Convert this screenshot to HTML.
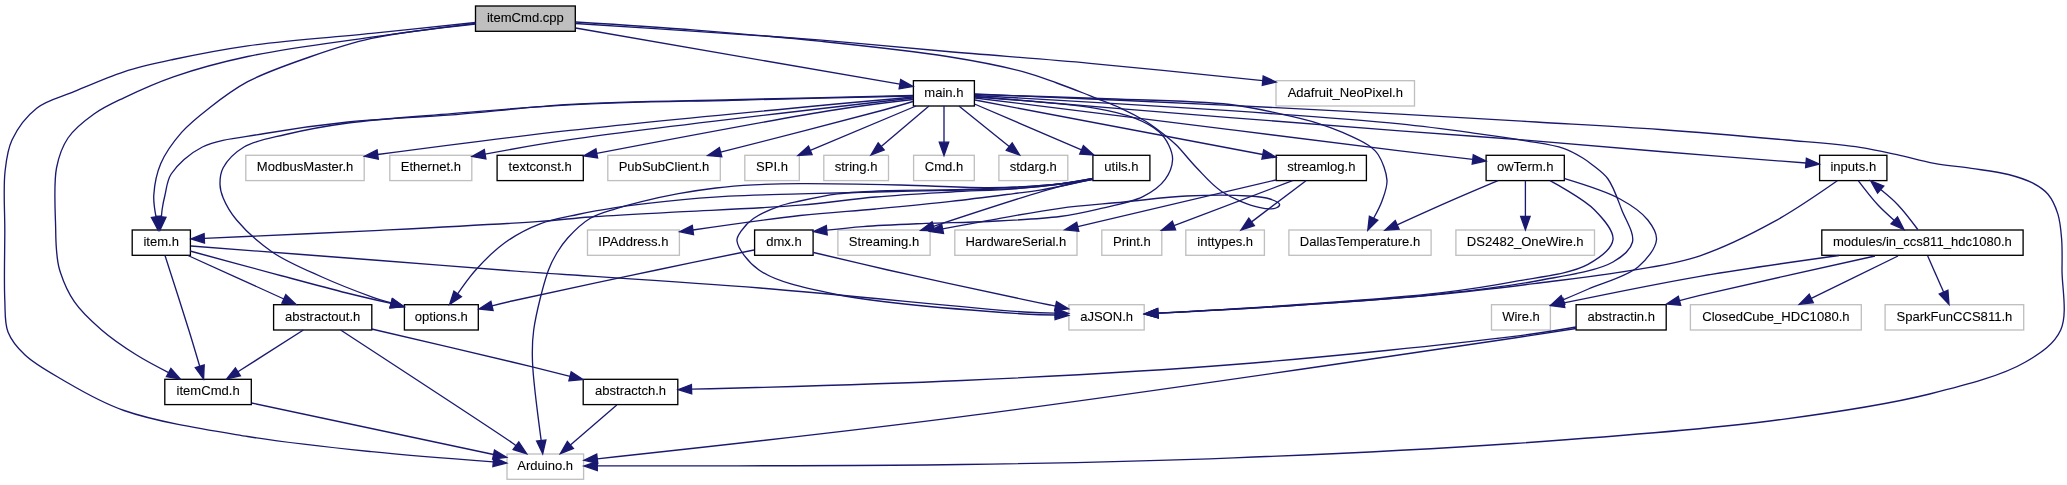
<!DOCTYPE html>
<html><head><meta charset="utf-8"><title>itemCmd.cpp</title>
<style>
html,body{margin:0;padding:0;background:#fff;}
body{width:2067px;height:485px;overflow:hidden;}
svg{display:block;}
text{font-family:"Liberation Sans",sans-serif;font-size:13.5px;text-anchor:middle;fill:#000;stroke:#000;stroke-width:0.1px;}
.e{fill:none;stroke:#191970;stroke-width:1.33;}
.a{fill:#191970;stroke:#191970;stroke-width:1.33;}
</style></head><body>
<svg width="2067" height="485" viewBox="0 0 2067 485">
<rect width="2067" height="485" fill="#fff"/>
<rect x="475.5" y="6" width="99.8" height="25.3" fill="#bfbfbf" stroke="#000000" stroke-width="1.33"/>
<rect x="913.4" y="80.7" width="61" height="25.3" fill="#ffffff" stroke="#000000" stroke-width="1.33"/>
<rect x="1276" y="80.7" width="138.5" height="25.3" fill="#ffffff" stroke="#bfbfbf" stroke-width="1.33"/>
<rect x="245.8" y="155.3" width="118.4" height="25.3" fill="#ffffff" stroke="#bfbfbf" stroke-width="1.33"/>
<rect x="389.8" y="155.3" width="82" height="25.3" fill="#ffffff" stroke="#bfbfbf" stroke-width="1.33"/>
<rect x="497.1" y="155.3" width="86.2" height="25.3" fill="#ffffff" stroke="#000000" stroke-width="1.33"/>
<rect x="607.8" y="155.3" width="112.5" height="25.3" fill="#ffffff" stroke="#bfbfbf" stroke-width="1.33"/>
<rect x="744.8" y="155.3" width="54.5" height="25.3" fill="#ffffff" stroke="#bfbfbf" stroke-width="1.33"/>
<rect x="823.8" y="155.3" width="64.7" height="25.3" fill="#ffffff" stroke="#bfbfbf" stroke-width="1.33"/>
<rect x="913.6" y="155.3" width="60.7" height="25.3" fill="#ffffff" stroke="#bfbfbf" stroke-width="1.33"/>
<rect x="998.9" y="155.3" width="68.9" height="25.3" fill="#ffffff" stroke="#bfbfbf" stroke-width="1.33"/>
<rect x="1092.9" y="155.3" width="57" height="25.3" fill="#ffffff" stroke="#000000" stroke-width="1.33"/>
<rect x="1276.2" y="155.3" width="90.2" height="25.3" fill="#ffffff" stroke="#000000" stroke-width="1.33"/>
<rect x="1486.1" y="155.3" width="78.2" height="25.3" fill="#ffffff" stroke="#000000" stroke-width="1.33"/>
<rect x="1819.6" y="155.3" width="67.3" height="25.3" fill="#ffffff" stroke="#000000" stroke-width="1.33"/>
<rect x="132.2" y="230" width="58.2" height="25.3" fill="#ffffff" stroke="#000000" stroke-width="1.33"/>
<rect x="587.5" y="230" width="91.9" height="25.3" fill="#ffffff" stroke="#bfbfbf" stroke-width="1.33"/>
<rect x="754.6" y="230" width="58.5" height="25.3" fill="#ffffff" stroke="#000000" stroke-width="1.33"/>
<rect x="837.9" y="230" width="92.2" height="25.3" fill="#ffffff" stroke="#bfbfbf" stroke-width="1.33"/>
<rect x="954.8" y="230" width="122.2" height="25.3" fill="#ffffff" stroke="#bfbfbf" stroke-width="1.33"/>
<rect x="1101.8" y="230" width="60" height="25.3" fill="#ffffff" stroke="#bfbfbf" stroke-width="1.33"/>
<rect x="1185.8" y="230" width="78.6" height="25.3" fill="#ffffff" stroke="#bfbfbf" stroke-width="1.33"/>
<rect x="1288.9" y="230" width="142.2" height="25.3" fill="#ffffff" stroke="#bfbfbf" stroke-width="1.33"/>
<rect x="1455.9" y="230" width="138.6" height="25.3" fill="#ffffff" stroke="#bfbfbf" stroke-width="1.33"/>
<rect x="1821.8" y="230" width="201.3" height="25.3" fill="#ffffff" stroke="#000000" stroke-width="1.33"/>
<rect x="273.6" y="304.7" width="98.2" height="25.3" fill="#ffffff" stroke="#000000" stroke-width="1.33"/>
<rect x="404.4" y="304.7" width="73.9" height="25.3" fill="#ffffff" stroke="#000000" stroke-width="1.33"/>
<rect x="1068.9" y="304.7" width="75.3" height="25.3" fill="#ffffff" stroke="#bfbfbf" stroke-width="1.33"/>
<rect x="1491.5" y="304.7" width="58.9" height="25.3" fill="#ffffff" stroke="#bfbfbf" stroke-width="1.33"/>
<rect x="1576.1" y="304.7" width="90.1" height="25.3" fill="#ffffff" stroke="#000000" stroke-width="1.33"/>
<rect x="1690.4" y="304.7" width="170.9" height="25.3" fill="#ffffff" stroke="#bfbfbf" stroke-width="1.33"/>
<rect x="1885.1" y="304.7" width="138.6" height="25.3" fill="#ffffff" stroke="#bfbfbf" stroke-width="1.33"/>
<rect x="164.8" y="379.3" width="86.5" height="25.3" fill="#ffffff" stroke="#000000" stroke-width="1.33"/>
<rect x="583.2" y="379.3" width="94.6" height="25.3" fill="#ffffff" stroke="#000000" stroke-width="1.33"/>
<rect x="507" y="454" width="76.6" height="25.3" fill="#ffffff" stroke="#bfbfbf" stroke-width="1.33"/>
<g style="opacity:0.999">
<text transform="translate(525.4,22) scale(0.968,1)">itemCmd.cpp</text>
<text transform="translate(943.9,96.6) scale(0.968,1)">main.h</text>
<text transform="translate(1345.3,96.6) scale(0.968,1)">Adafruit_NeoPixel.h</text>
<text transform="translate(305.1,171.3) scale(0.968,1)">ModbusMaster.h</text>
<text transform="translate(430.8,171.3) scale(0.968,1)">Ethernet.h</text>
<text transform="translate(540.1,171.3) scale(0.968,1)">textconst.h</text>
<text transform="translate(664,171.3) scale(0.968,1)">PubSubClient.h</text>
<text transform="translate(772,171.3) scale(0.968,1)">SPI.h</text>
<text transform="translate(856.1,171.3) scale(0.968,1)">string.h</text>
<text transform="translate(944,171.3) scale(0.968,1)">Cmd.h</text>
<text transform="translate(1033.3,171.3) scale(0.968,1)">stdarg.h</text>
<text transform="translate(1121.4,171.3) scale(0.968,1)">utils.h</text>
<text transform="translate(1321.3,171.3) scale(0.968,1)">streamlog.h</text>
<text transform="translate(1525.2,171.3) scale(0.968,1)">owTerm.h</text>
<text transform="translate(1853.3,171.3) scale(0.968,1)">inputs.h</text>
<text transform="translate(161.2,246) scale(0.968,1)">item.h</text>
<text transform="translate(633.4,246) scale(0.968,1)">IPAddress.h</text>
<text transform="translate(783.9,246) scale(0.968,1)">dmx.h</text>
<text transform="translate(884,246) scale(0.968,1)">Streaming.h</text>
<text transform="translate(1015.8,246) scale(0.968,1)">HardwareSerial.h</text>
<text transform="translate(1131.8,246) scale(0.968,1)">Print.h</text>
<text transform="translate(1225.2,246) scale(0.968,1)">inttypes.h</text>
<text transform="translate(1360,246) scale(0.968,1)">DallasTemperature.h</text>
<text transform="translate(1525.2,246) scale(0.968,1)">DS2482_OneWire.h</text>
<text transform="translate(1922.4,246) scale(0.968,1)">modules/in_ccs811_hdc1080.h</text>
<text transform="translate(322.6,320.6) scale(0.968,1)">abstractout.h</text>
<text transform="translate(441.3,320.6) scale(0.968,1)">options.h</text>
<text transform="translate(1106.6,320.6) scale(0.968,1)">aJSON.h</text>
<text transform="translate(1521,320.6) scale(0.968,1)">Wire.h</text>
<text transform="translate(1621.2,320.6) scale(0.968,1)">abstractin.h</text>
<text transform="translate(1775.9,320.6) scale(0.968,1)">ClosedCube_HDC1080.h</text>
<text transform="translate(1954.4,320.6) scale(0.968,1)">SparkFunCCS811.h</text>
<text transform="translate(208.1,395.3) scale(0.968,1)">itemCmd.h</text>
<text transform="translate(630.5,395.3) scale(0.968,1)">abstractch.h</text>
<text transform="translate(545.2,470) scale(0.968,1)">Arduino.h</text>
</g>
<g>
<path class="e" d="M475.5,22.5C475.5,22.5 407.8,29.7 371.6,33.4C332.1,37.4 283.7,40.7 247.7,45.8C219.6,49.8 195.2,54.7 173,59.5C154.9,63.4 140.2,66.5 123.9,71.8C107.2,77.2 89.3,85.3 74,91.7C60.7,97.3 47.3,100 37,108C26.7,116.1 17.3,128.7 12,140C7.2,150.2 6.4,159.7 5,172C3.2,188.4 4.8,209.8 4.8,230C4.8,252.2 3.9,281.2 4.8,300C5.4,312.7 4.4,322.7 8,332C11.4,340.8 17.3,347.7 24.8,354.8C34.2,363.8 47.7,371.2 62,379.5C79.8,389.8 99.1,401.8 124,410.5C157.6,422.2 206.3,429.6 247.7,436.5C288.8,443.3 330.4,447.5 371.6,451.7C412.3,455.9 493.3,461.9 493.3,461.9"/><polygon class="a" points="492.9,466.5 506.6,463 493.7,457.2"/>
<path class="e" d="M475.5,23.3C475.5,23.3 407.7,32 371.6,37.2C332.1,42.9 283.6,48.8 247.7,56.5C219.6,62.5 195.4,69.2 173.4,76.8C155,83.2 138.2,90.9 123.9,97.8C112.5,103.3 103.2,107.4 94,114C84.6,120.7 74.3,128.7 68,138C62,146.8 58.8,156 56.5,168C53.3,184.7 55.5,215 55.7,230C55.8,238.5 55.9,243.4 56.5,250C57.1,256.6 57.4,262.4 59.5,269.5C62.4,279.1 67.6,291.8 74.3,301.7C81.4,312.1 91.5,321.3 101.6,330C112.1,339.1 124.6,347.5 136.2,354.8C147,361.6 168.6,372.6 168.6,372.6"/><polygon class="a" points="166.4,376.7 180.3,379 170.9,368.5"/>
<path class="e" d="M475.5,24C475.5,24 401.6,31.9 371.6,38.4C348.1,43.5 330.1,49.8 309.6,57C288.8,64.3 265.4,72.2 247.7,81.7C232.9,89.6 220.8,99 209.3,108C199,116 189.7,123.2 181.6,132.4C173.5,141.7 165.4,152.7 160.8,163.6C156.5,173.7 154.4,185.4 153.8,195C153.3,202.9 156,216.8 156,216.8"/><polygon class="a" points="151.4,217.5 158,230 160.7,216.1"/>
<path class="e" d="M575.6,28L899.9,84.2"/><polygon class="a" points="899.1,88.8 913,86.5 900.7,79.6"/>
<path class="e" d="M575.6,23.5C575.6,23.5 655.3,28.7 695.8,31.4C737.3,34.2 779.7,36.9 821.6,40.2C863.5,43.6 904.1,47.8 947.4,51.5C993.4,55.5 1040.2,58.7 1090,63.3C1144.8,68.3 1262.7,80.7 1262.7,80.7"/><polygon class="a" points="1262.3,85.3 1276,82 1263.2,76"/>
<path class="e" d="M575.6,22C575.6,22 655.3,26.9 695.8,30.1C737.3,33.4 779.7,37 821.6,41.4C863.6,45.8 910.9,50.7 947.4,56.5C975.8,61 1002.7,66.3 1022.8,71.6C1036.5,75.3 1046.2,79.2 1056.8,83C1066.2,86.4 1076,90.2 1083.2,93C1088.2,95 1090.9,96.2 1095.8,98.2C1102.8,101 1112.7,104.5 1121,108.3C1129.5,112.2 1138.4,116.8 1146,121.5C1152.9,125.8 1159.6,131 1165,135.3C1169.3,138.7 1172.1,140.9 1176.3,145C1182.3,150.9 1189.4,160.4 1196.8,168C1204.6,176 1212.1,185.3 1222,191.7C1232.6,198.6 1248.9,205.2 1259,207.4C1265.6,208.9 1272.6,209.4 1276,208C1277.9,207.2 1279.8,205.5 1279.6,204.3C1279.3,202.5 1274,200.3 1270,199C1264.4,197.1 1257.8,196.6 1248.8,196C1233.5,194.9 1207.2,195 1186.4,196C1165.6,197 1144.9,200 1124,202C1102.8,204.1 1081.9,205.4 1060,208.3C1036.8,211.4 1009.9,216.5 988.7,220.3C971.6,223.3 942.6,228.9 942.6,228.9"/><polygon class="a" points="941.7,224.4 929.5,231.4 943.5,233.5"/>
<path class="e" d="M251.7,403L493.6,454.5"/><polygon class="a" points="492.6,459.1 506.6,457.3 494.5,450"/>
<path class="e" d="M913,95.5C913,95.5 799.1,98 742,99.5C684.7,101 621.9,101.4 570,104.4C526.9,106.9 490.1,111.8 452,114.8C416.3,117.6 380.7,118.6 348,122C318.7,125 290.5,129 264.8,133.5C242.4,137.5 218.8,138.8 202.4,147C189.2,153.6 177.2,164.6 171.2,174C166.8,180.8 166.6,188.7 165,195C163.7,200.1 162.8,205 162.2,209C161.8,211.9 161.4,216.7 161.4,216.7"/><polygon class="a" points="156.7,216.3 160,230 166,217.2"/>
<path class="e" d="M913,96C913,96 799.1,98.5 742,100C684.7,101.5 621.9,102.1 570,104.8C526.9,107 490.1,110.6 452,113.7C416.2,116.6 378.2,118.9 348,123C324.5,126.2 304.2,130 285.6,134.5C270.2,138.2 254.9,140.5 244,147C235,152.4 227,160.6 223.2,167.8C220.3,173.2 219.9,179.2 220,184.5C220.1,189.3 221.2,193.1 223.2,198C225.9,204.6 230.3,212.5 236.6,220C245.2,230.3 258.9,242.9 272.5,252.2C287.1,262.1 305.3,269.5 322,277C338.4,284.4 358.8,292.2 371.6,296.8C379.6,299.6 391.3,303 391.3,303"/><polygon class="a" points="389.9,307.5 404,307 392.7,298.5"/>
<path class="e" d="M913,97C913,97 667.8,119.5 570,130.4C496.6,138.6 377.7,154.5 377.7,154.5"/><polygon class="a" points="377.1,149.9 364.5,156.2 378.3,159.2"/>
<path class="e" d="M913,98C913,98 645.9,128.6 570,139.7C532.1,145.2 485.1,154.2 485.1,154.2"/><polygon class="a" points="484.3,149.6 472,156.5 485.9,158.9"/>
<path class="e" d="M913,99.5C913,99.5 867.3,104.7 834,110C776,119.1 596.7,153.4 596.7,153.4"/><polygon class="a" points="595.9,148.8 583.6,155.8 597.6,158"/>
<path class="e" d="M913,101.5C913,101.5 897.4,106.2 883.6,110C851.2,118.9 720.6,152.2 720.6,152.2"/><polygon class="a" points="719.4,147.6 707.7,155.5 721.8,156.7"/>
<path class="e" d="M916,106L810.3,150.3"/><polygon class="a" points="808.5,146 798,155.5 812.1,154.6"/>
<path class="e" d="M929,106L881.2,146.4"/><polygon class="a" points="878.2,142.8 871,155 884.2,150"/>
<path class="e" d="M944,106L944,142.2"/><polygon class="a" points="939.3,142.2 944,155.5 948.7,142.2"/>
<path class="e" d="M958.9,106L1009.2,146.6"/><polygon class="a" points="1006.3,150.3 1019.6,155 1012.2,143"/>
<path class="e" d="M974.5,104L1081.5,149.8"/><polygon class="a" points="1079.7,154.1 1093.8,155 1083.4,145.5"/>
<path class="e" d="M975,97C975,97 1067.1,103.4 1095.8,108.3C1112.1,111.1 1122.4,113.4 1133.5,117.7C1143,121.4 1152.6,126.2 1158.7,131.5C1163.4,135.6 1166.4,140.2 1168.7,145C1170.9,149.6 1172.8,154.3 1172.6,159.5C1172.3,165.7 1169.5,173.5 1165.2,179.4C1160.2,186.2 1152.2,192 1142.9,196.7C1131,202.7 1112.7,205.7 1098.3,209.1C1085.1,212.2 1074.8,214.6 1060,216.5C1040,219.1 1011.7,220.3 988.7,221.5C967.1,222.6 946.8,222.6 925.8,223.4C904.8,224.3 881,225.2 862.9,226.6C849.2,227.6 826.8,230.2 826.8,230.2"/><polygon class="a" points="826.3,225.5 813.5,231.5 827.2,234.8"/>
<path class="e" d="M975,100L1262.8,154.5"/><polygon class="a" points="1261.9,159.1 1275.9,157 1263.7,149.9"/>
<path class="e" d="M975,94.5C975,94.5 1057.9,96.9 1100,98.5C1142.9,100.2 1196.9,100.7 1230,104.5C1250.8,106.9 1264.8,110.5 1280.3,113.9C1293.8,116.8 1306.8,119.8 1318,123.3C1327.3,126.2 1334.9,129.1 1343.2,132.7C1351.7,136.4 1362.1,140.9 1368.4,145.3C1372.8,148.4 1375.6,150.6 1378.4,155C1382.3,161.2 1386.6,172.3 1387,180.4C1387.3,187.6 1384.3,194.5 1382,201C1379.8,207.1 1373.6,218.3 1373.6,218.3"/><polygon class="a" points="1369.4,216.3 1367.8,230.3 1377.8,220.3"/>
<path class="e" d="M975,98C975,98 1153.6,120.1 1230,129.6C1292.4,137.4 1355.2,145.5 1400,150.9C1429.3,154.5 1472.8,159.4 1472.8,159.4"/><polygon class="a" points="1472.2,164.1 1486,161 1473.3,154.8"/>
<path class="e" d="M975,95.5C975,95.5 1153.6,105.5 1230,110.7C1292.4,115 1354.7,119.3 1400,123.9C1430.2,127 1452.9,130.2 1475.5,133.3C1494,135.8 1510.3,138.1 1525.8,140.8C1539.3,143.2 1553.3,144.9 1563.5,148.4C1571.1,151 1577.2,154.7 1582.4,157.8C1586.4,160.2 1588.9,162.1 1592.5,165C1597.2,168.8 1603.5,172.8 1608,179C1613.7,186.9 1617.7,199.5 1621.8,210C1625.9,220.5 1634.5,233.1 1632.5,242C1630.6,250.1 1622.7,256.4 1613,262C1597,271.2 1565.6,275.4 1539,280.5C1508.5,286.4 1475.9,290.1 1440,294C1397.4,298.6 1346.9,301.8 1300,305C1252.8,308.2 1157.9,313.2 1157.9,313.2"/><polygon class="a" points="1157.6,308.6 1144.6,314 1158.2,317.9"/>
<path class="e" d="M975,96.5C975,96.5 1153.6,111.5 1230,117.6C1292.4,122.6 1347.6,126.8 1400,130.8C1445.1,134.2 1483.2,136.8 1525.8,140.2C1569.8,143.7 1614.3,147.8 1660,151.5C1707.6,155.4 1806,163 1806,163"/><polygon class="a" points="1805.6,167.6 1819.3,164 1806.4,158.3"/>
<path class="e" d="M975,94C975,94 1153.6,101.6 1230,105.3C1292.4,108.3 1346.5,111.2 1400,114.1C1447.9,116.7 1491.7,119.4 1536,122C1578.3,124.5 1618.5,126.5 1660,129.5C1702,132.5 1750.1,136.7 1786.6,140C1814.4,142.5 1839.7,144.3 1860,147.3C1874.5,149.5 1884.7,152 1897,154.7C1909.4,157.4 1921.8,161.1 1934.2,163.4C1946.5,165.6 1958.9,166.5 1971.3,168.3C1983.7,170.2 1997.4,171.7 2008.4,174.5C2017.6,176.9 2026,179.5 2033,183.2C2038.9,186.3 2043.9,189.5 2048,194.3C2052.4,199.6 2055.6,206.9 2057.9,214.1C2060.3,221.7 2060.9,230.1 2061.6,238.8C2062.4,248.6 2062.1,257.9 2062,270C2061.9,286.8 2067.9,314.2 2060.7,330C2054.3,344 2041.4,352.7 2025.5,362C2002.3,375.6 1966,384.9 1929.6,394C1883.5,405.5 1829.5,413.3 1769.8,421C1694.7,430.6 1601.3,437.4 1514,443.5C1422.8,449.8 1326.4,454.3 1233.7,457.8C1142.5,461.3 1059.2,463.1 962,464.5C849.4,466.1 597.3,465.9 597.3,465.9"/><polygon class="a" points="597.3,461.3 584,466 597.3,470.6"/>
<path class="e" d="M1093,178.3C1093,178.3 1073.1,182.4 1060,183.8C1040.8,185.9 1013.7,187.3 988.7,187.6C960.9,187.9 930.9,185.7 900.6,185C868.2,184.3 827.1,183.4 800,183.6C781.6,183.7 768.4,184.1 753.8,184.9C740.6,185.6 728.6,186.5 716,188C703.4,189.5 690.9,191.4 678.4,193.7C665.8,196 651.9,199.1 640.6,201.9C631.3,204.2 623.8,206.1 615.5,208.8C607,211.5 598.1,213.6 590.3,218.3C582.1,223.2 573.6,231.6 567.7,238C563.1,243.1 560,247.7 556.8,253C553.6,258.4 551.3,262.4 548.5,270C543.5,283.7 536.1,313 533.7,330C532,342.2 532,349 532.5,362C533.2,382.4 541.2,440.4 541.2,440.5"/><polygon class="a" points="536.6,441 542.7,453.7 545.9,439.9"/>
<path class="e" d="M1093,178.5C1093,178.5 1072,182.4 1060,184C1045.9,185.9 1029.5,187.6 1013.8,188.6C997.4,189.6 982.6,189.5 963.5,190C938.2,190.6 903.7,191.3 875.5,192C849.4,192.6 824.8,193.2 800,193.9C775.9,194.6 751.7,194.9 728.7,196.2C707.1,197.4 685.6,199.3 665.8,201.3C648.1,203.1 631,205.2 615.5,207.6C602,209.7 590.2,211.8 577.7,214.5C565.1,217.2 552.1,219.2 540,223.9C527.8,228.6 515.5,235.1 504.8,242.8C494.1,250.5 483.9,260.9 475.7,270C468.6,277.9 457.6,293.9 457.6,293.9"/><polygon class="a" points="453.9,291.1 449.6,304.5 461.4,296.7"/>
<path class="e" d="M1093,178.5C1093,178.5 1072,182.4 1060,184C1045.9,185.9 1030.4,187.5 1013.8,188.8C994.5,190.3 972.9,190.7 951,192C927,193.4 900.6,194.8 875.5,197C850.3,199.2 828.8,202.8 800,205.2C761.7,208.3 704.1,210.4 665.8,212.6C637,214.2 612.9,215.4 590.3,217C571.8,218.3 561.5,219.9 540,221.4C501.7,224.1 434.6,227.5 380,230.3C322.8,233.2 204.3,238.4 204.3,238.4"/><polygon class="a" points="204.1,233.7 191,239 204.5,243.1"/>
<path class="e" d="M1093,179C1093,179 1073.9,182.6 1060,184C1036.3,186.5 993.7,188.4 963.5,189.5C936.8,190.5 910.6,189.8 888,190.7C869.5,191.4 853.2,192 837.7,193.9C824.2,195.6 810.7,198.6 800,201C792,202.8 786.2,203.7 779,206.3C770.8,209.2 760.4,213.6 753.8,218.3C748.5,222 744.2,226.6 741.3,230.8C739,234.2 736.5,236.9 737,241C737.9,248.4 747.8,262 759,270C775.5,281.7 802.9,287.5 834,294C882.5,304.2 987.4,311.5 1024,314C1038.8,315 1055.3,315 1055.3,315"/><polygon class="a" points="1055.1,319.6 1068.6,315.4 1055.4,310.3"/>
<path class="e" d="M1093,179C1093,179 1054.6,187.7 1040,190.2C1029.8,191.9 1024.4,192.3 1013.8,193.6C997.4,195.7 972.9,198.9 951,201.4C927,204.1 900.7,206.6 875.5,209C850.3,211.3 827.3,212.5 800,215.5C767.4,219.1 692.9,230 692.9,230"/><polygon class="a" points="692.3,225.4 679.7,231.8 693.5,234.6"/>
<path class="e" d="M1093,179.5C1093,179.5 1074.4,182.5 1060,186.3C1031.4,193.8 933.5,226.3 933.5,226.3"/><polygon class="a" points="932.1,221.8 920.8,230.3 934.9,230.7"/>
<path class="e" d="M1275.9,180L1077.8,226.7"/><polygon class="a" points="1076.7,222.2 1064.8,229.8 1078.8,231.3"/>
<path class="e" d="M1292.5,180.7L1174,225.6"/><polygon class="a" points="1172.3,221.2 1161.5,230.3 1175.6,229.9"/>
<path class="e" d="M1306,180.7L1251.6,221.9"/><polygon class="a" points="1248.8,218.2 1241,230 1254.4,225.7"/>
<path class="e" d="M1498,180.7C1498,180.7 1466.4,194 1450,201.2C1432.8,208.7 1397.2,224.9 1397.2,224.9"/><polygon class="a" points="1395.3,220.6 1385,230.3 1399.1,229.1"/>
<path class="e" d="M1525.4,180.7L1525.4,216.5"/><polygon class="a" points="1520.7,216.5 1525.4,229.8 1530.1,216.5"/>
<path class="e" d="M1550,180.7C1550,180.7 1583.8,198.9 1594.6,210C1603.4,219 1614.1,230.6 1613,239.7C1611.9,248.8 1599.7,257.9 1588,264.4C1570.7,273.9 1538.8,276.9 1514,281.7C1489.4,286.4 1468.6,289.6 1440,292.9C1400.8,297.5 1346.9,301.1 1300,304.5C1252.8,307.9 1157.9,313.2 1157.9,313.2"/><polygon class="a" points="1157.6,308.5 1144.6,314 1158.2,317.8"/>
<path class="e" d="M1564.7,178.7C1564.7,178.7 1605.2,190.9 1620,199C1631.4,205.2 1641.7,212.2 1647.8,220C1652.6,226.1 1657.1,232.8 1656.5,239.7C1655.7,248.3 1647.1,259.4 1638,267C1626.3,276.8 1602.2,283 1588.4,289C1578.6,293.3 1563,299.9 1563,299.9"/><polygon class="a" points="1561.2,295.6 1550.8,305.2 1564.9,304.2"/>
<path class="e" d="M1837.3,180.8C1837.3,180.8 1796.4,209.4 1774,221.7C1750.7,234.5 1724,247.7 1700,255.8C1678.8,262.9 1661.2,265.3 1638,269.4C1608.9,274.6 1572,278.8 1539,283C1506,287.1 1475.9,290.9 1440,294.3C1397.4,298.4 1346.9,302 1300,305.2C1252.8,308.4 1157.9,313.2 1157.9,313.2"/><polygon class="a" points="1157.6,308.6 1144.6,314 1158.2,317.9"/>
<path class="e" d="M1858.4,180.8C1858.4,180.8 1871.5,198 1878,205C1883.5,210.9 1894.3,220.4 1894.3,220.4"/><polygon class="a" points="1891.1,223.8 1904,229.6 1897.5,217"/>
<path class="e" d="M1917.8,229.5C1917.8,229.5 1904.7,212 1898,205C1892.3,199 1880.7,189.6 1880.7,189.6"/><polygon class="a" points="1883.8,186.1 1870.7,180.8 1877.6,193.1"/>
<path class="e" d="M1839,255.5C1839,255.5 1746,268.4 1700,276.3C1654.3,284.2 1563.9,302.9 1563.9,302.9"/><polygon class="a" points="1563,298.4 1550.8,305.5 1564.8,307.5"/>
<path class="e" d="M1875,256C1875,256 1729.7,288.2 1700,295.4C1689.8,297.9 1679.5,300.7 1679.5,300.7"/><polygon class="a" points="1678.3,296.2 1666.6,304 1680.7,305.2"/>
<path class="e" d="M1898,256L1811.3,298.4"/><polygon class="a" points="1809.2,294.2 1799.3,304.3 1813.3,302.6"/>
<path class="e" d="M1927.7,256L1943.6,292.1"/><polygon class="a" points="1939.3,294 1949,304.3 1947.9,290.2"/>
<path class="e" d="M1576,327C1576,327 1542.2,332.9 1514,336.4C1454.3,343.9 1326.5,357.1 1233.7,364.5C1142.5,371.8 1052.5,376.4 962,380.5C871.8,384.6 691.5,389.2 691.5,389.2"/><polygon class="a" points="691.4,384.5 678.2,389.6 691.7,393.8"/>
<path class="e" d="M1576,328.5C1576,328.5 1545,333.4 1514,338C1421.6,351.7 1127.1,395.3 962,416.6C828,433.9 597.2,458.8 597.2,458.8"/><polygon class="a" points="596.7,454.1 584,460.3 597.8,463.4"/>
<path class="e" d="M616.8,405L570.4,445"/><polygon class="a" points="567.3,441.5 560.3,453.7 573.4,448.5"/>
<path class="e" d="M191,246C191,246 322.6,256.1 380,260.5C427.9,264.2 461.1,267 512,270.8C581.7,275.9 676.1,281.3 760,288C846.7,294.9 978.9,309.2 1024,312C1039.5,313 1055.3,313.1 1055.3,313.1"/><polygon class="a" points="1055.1,317.7 1068.6,313.5 1055.4,308.4"/>
<path class="e" d="M190,251C190,251 245.7,266.1 272.5,273.3C297.9,280.1 325.2,287.6 346.8,293C363.4,297.2 391,303.4 391,303.4"/><polygon class="a" points="390,308 404,306.5 392.1,298.9"/>
<path class="e" d="M188,255.5L283.9,299"/><polygon class="a" points="281.9,303.2 296,304.5 285.8,294.7"/>
<path class="e" d="M165,255.5C165,255.5 182.5,309.6 188.8,330C193.2,344.2 199.7,366.2 199.7,366.2"/><polygon class="a" points="195.3,367.6 203.6,379 204.2,364.9"/>
<path class="e" d="M303.4,330L237.9,371.8"/><polygon class="a" points="235.4,367.9 226.7,379 240.4,375.8"/>
<path class="e" d="M340.6,330C340.6,330 496.9,432.1 512,442.7C514.4,444.4 516,445.7 516,445.7"/><polygon class="a" points="513.2,449.5 526.7,453.7 518.8,442"/>
<path class="e" d="M371.6,329C371.6,329 475.4,353.2 512,362C535.6,367.7 570.1,376.3 570.1,376.3"/><polygon class="a" points="568.9,380.8 583,379.5 571.2,371.8"/>
<path class="e" d="M754,250C754,250 692.3,262.5 656.7,270C613.2,279.1 538.1,295 512,301C502.2,303.2 492,305.9 492,305.9"/><polygon class="a" points="490.9,301.3 479,309 493.1,310.4"/>
<path class="e" d="M813.5,252.5C813.5,252.5 859.4,263.5 888,270C926.5,278.7 996.4,293.7 1024,299.6C1036.1,302.2 1044.5,303.9 1050,305C1052.5,305.5 1055.5,306.1 1055.5,306.1"/><polygon class="a" points="1054.6,310.7 1068.6,308.8 1056.5,301.6"/>
</g>
</svg>
</body></html>
